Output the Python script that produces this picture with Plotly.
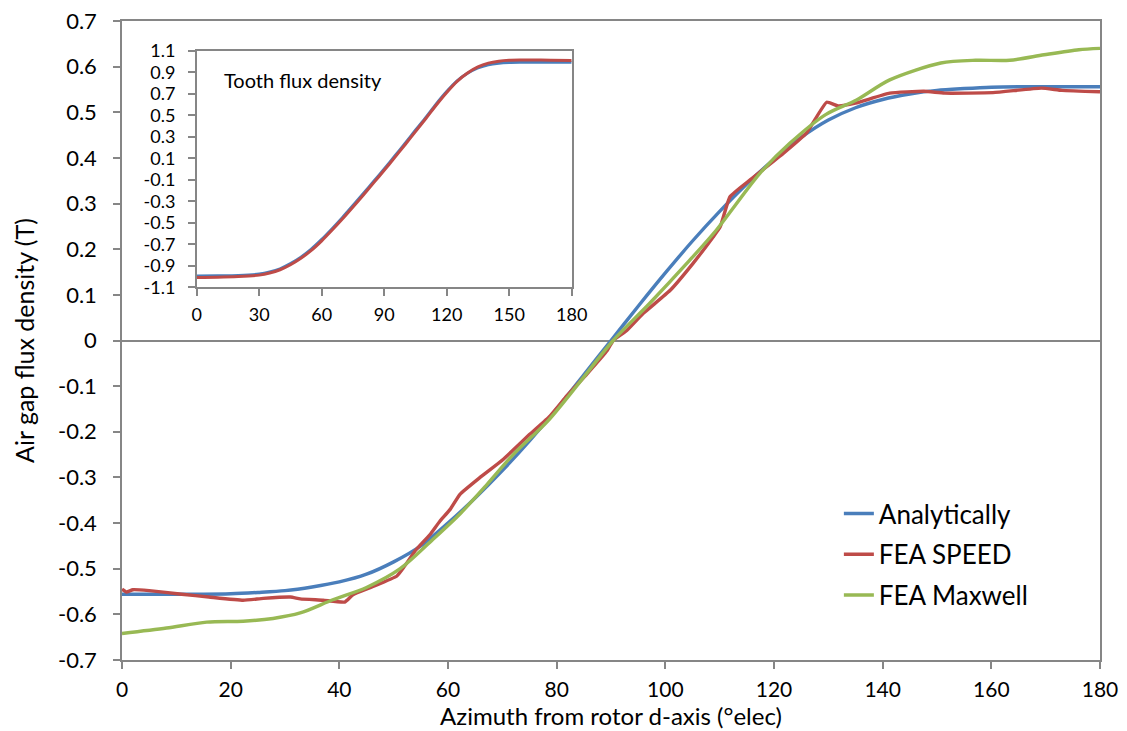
import plotly.graph_objects as go

# ---------------- data ----------------
x_ana = [0, 5, 10, 15, 20, 25, 30, 35, 40, 45, 50, 55, 60, 65, 70, 75, 80, 85, 90,
         95, 100, 105, 110, 115, 120, 125, 130, 135, 140, 145, 150, 155, 160, 165, 170, 175, 180]
b_ana = [-0.556, -0.556, -0.556, -0.556, -0.555, -0.552, -0.548, -0.540, -0.529, -0.512, -0.485,
         -0.450, -0.400, -0.345, -0.285, -0.220, -0.150, -0.075, 0.000,
         0.075, 0.148, 0.218, 0.283, 0.343, 0.397, 0.445, 0.483, 0.510, 0.528, 0.540,
         0.548, 0.552, 0.555, 0.556, 0.556, 0.556, 0.556]

x_speed = [0, 0.8, 2, 5, 11, 16, 22.3, 26, 31, 32.8, 37, 41, 42.5, 46, 50.6, 51.8, 54, 56.7,
           58.5, 60.4, 62.2, 65.9, 70.2, 75.1, 78.8, 81.9, 85.6, 89.3, 90.4, 92.9, 95.9,
           100.9, 105.1, 108.8, 110.1, 111.9, 115.6, 121.7, 126, 129.7, 131.8, 135, 141.3,
           147.6, 151.4, 160.3, 169.2, 173, 180]
b_speed = [-0.545, -0.551, -0.546, -0.548, -0.556, -0.562, -0.569, -0.565, -0.562, -0.566,
           -0.569, -0.573, -0.557, -0.540, -0.516, -0.498, -0.460, -0.425, -0.396, -0.370,
           -0.337, -0.300, -0.260, -0.205, -0.165, -0.121, -0.073, -0.022, 0.000, 0.022,
           0.059, 0.110, 0.169, 0.227, 0.249, 0.315, 0.352, 0.410, 0.455, 0.522, 0.514,
           0.520, 0.542, 0.546, 0.542, 0.543, 0.553, 0.548, 0.545]

x_maxwell = [0, 8.2, 15.6, 22.3, 27.8, 32.8, 38.8, 45, 51.2, 57.2, 62.2, 67.2, 72, 78.4, 84,
             90.4, 97, 104.5, 109.4, 117.4, 122.9, 129.5, 135.2, 141.3, 150.7, 157.1, 163.4,
             169.7, 176.1, 180]
b_maxwell = [-0.642, -0.630, -0.617, -0.615, -0.609, -0.597, -0.568, -0.541, -0.500, -0.436,
             -0.380, -0.315, -0.250, -0.176, -0.095, 0.000, 0.080, 0.176, 0.242, 0.366,
             0.432, 0.495, 0.527, 0.571, 0.608, 0.614, 0.614, 0.626, 0.637, 0.640]

x_tooth = [0, 10, 20, 30, 35, 40, 45, 50, 55, 60, 65, 70, 75, 80, 85, 90, 95, 100, 105, 110,
           115, 120, 125, 130, 135, 140, 145, 150, 155, 160, 170, 180]
tooth_ana = [-0.996, -0.994, -0.990, -0.977, -0.958, -0.928, -0.880, -0.820, -0.745, -0.655,
             -0.555, -0.450, -0.340, -0.228, -0.114, 0.000, 0.118, 0.238, 0.360, 0.480,
             0.605, 0.720, 0.820, 0.890, 0.940, 0.970, 0.984, 0.990, 0.992, 0.993, 0.993, 0.992]
tooth_speed = [-1.008, -1.006, -1.000, -0.987, -0.968, -0.937, -0.890, -0.830, -0.757, -0.668,
               -0.568, -0.463, -0.353, -0.241, -0.127, -0.012, 0.106, 0.226, 0.348, 0.470,
               0.595, 0.712, 0.815, 0.893, 0.950, 0.985, 1.003, 1.011, 1.013, 1.013, 1.012, 1.008]

main_xticks = [0, 20, 40, 60, 80, 100, 120, 140, 160, 180]
main_yticks = [-0.7, -0.6, -0.5, -0.4, -0.3, -0.2, -0.1, 0, 0.1, 0.2, 0.3, 0.4, 0.5, 0.6, 0.7]
main_ylabels = ["-0.7", "-0.6", "-0.5", "-0.4", "-0.3", "-0.2", "-0.1", "0",
                "0.1", "0.2", "0.3", "0.4", "0.5", "0.6", "0.7"]
inset_xticks = [0, 30, 60, 90, 120, 150, 180]
inset_yticks = [-1.1, -0.9, -0.7, -0.5, -0.3, -0.1, 0.1, 0.3, 0.5, 0.7, 0.9, 1.1]
inset_ylabels = ["-1.1", "-0.9", "-0.7", "-0.5", "-0.3", "-0.1",
                 "0.1", "0.3", "0.5", "0.7", "0.9", "1.1"]

names = ["Analytically", "FEA SPEED", "FEA Maxwell"]
colors = ["#4A7EBB", "#BE4B48", "#98B954"]

FONT = "Lato"
AX = "#868686"

fig = go.Figure()

fig.add_trace(go.Scatter(x=x_ana, y=b_ana, mode="lines", name=names[0], legendgroup="a",
                         line=dict(color=colors[0], width=3.4, shape="spline", smoothing=0.8)))
fig.add_trace(go.Scatter(x=x_speed, y=b_speed, mode="lines", name=names[1], legendgroup="b",
                         line=dict(color=colors[1], width=3.4, shape="spline", smoothing=0.4)))
fig.add_trace(go.Scatter(x=x_maxwell, y=b_maxwell, mode="lines", name=names[2], legendgroup="c",
                         line=dict(color=colors[2], width=3.4, shape="spline", smoothing=0.8)))

# inset
fig.add_trace(go.Scatter(x=x_tooth, y=tooth_ana, mode="lines", showlegend=False,
                         xaxis="x2", yaxis="y2",
                         line=dict(color=colors[0], width=3, shape="spline", smoothing=0.8)))
fig.add_trace(go.Scatter(x=x_tooth, y=tooth_speed, mode="lines", showlegend=False,
                         xaxis="x2", yaxis="y2",
                         line=dict(color=colors[1], width=3, shape="spline", smoothing=0.8)))

common = dict(automargin=False, showgrid=False, showline=True, linecolor=AX, linewidth=1.5,
              mirror=True, ticks="outside", ticklen=7, tickcolor=AX, tickwidth=1.5,
              ticklabeloverflow="allow")

fig.update_layout(
    width=1119, height=723,
    margin=dict(l=114, r=27, t=13, b=71, autoexpand=False),
    paper_bgcolor="white", plot_bgcolor="white",
    font=dict(family=FONT, size=22, color="black"),
    showlegend=True,
    legend=dict(x=0.733, y=0.266, xanchor="left", yanchor="top",
                font=dict(family=FONT, size=26, color="black"),
                bgcolor="rgba(0,0,0,0)", traceorder="grouped", tracegroupgap=4),
    xaxis=dict(range=[0, 180], tickvals=main_xticks, zeroline=False,
               tickfont=dict(family=FONT, size=21), ticklabelstandoff=3,
               title=dict(text="Azimuth from rotor d-axis (°elec)",
                          font=dict(family=FONT, size=24), standoff=6), **common),
    yaxis=dict(range=[-0.7, 0.7], tickvals=main_yticks, ticktext=main_ylabels,
               zeroline=True, zerolinecolor=AX, zerolinewidth=1.5,
               tickfont=dict(family=FONT, size=22), ticklabelstandoff=12,
               title=dict(text="Air gap flux density (T)",
                          font=dict(family=FONT, size=25), standoff=16), **common),
    xaxis2=dict(domain=[0.0764, 0.4598], anchor="y2", range=[0, 180],
                tickvals=inset_xticks, zeroline=False, tickfont=dict(family=FONT, size=18),
                ticklabelstandoff=3, **common),
    yaxis2=dict(domain=[0.5833, 0.9535], anchor="x2", range=[-1.1, 1.1],
                tickvals=inset_yticks, ticktext=inset_ylabels, zeroline=False,
                tickfont=dict(family=FONT, size=18), ticklabelstandoff=9, **common),
    annotations=[dict(text="Tooth flux density", xref="x2", yref="y2", x=12, y=0.83,
                      xanchor="left", yanchor="middle", showarrow=False,
                      font=dict(family=FONT, size=20, color="black"))],
)

fig.write_html("out.html", config={"displayModeBar": False})
